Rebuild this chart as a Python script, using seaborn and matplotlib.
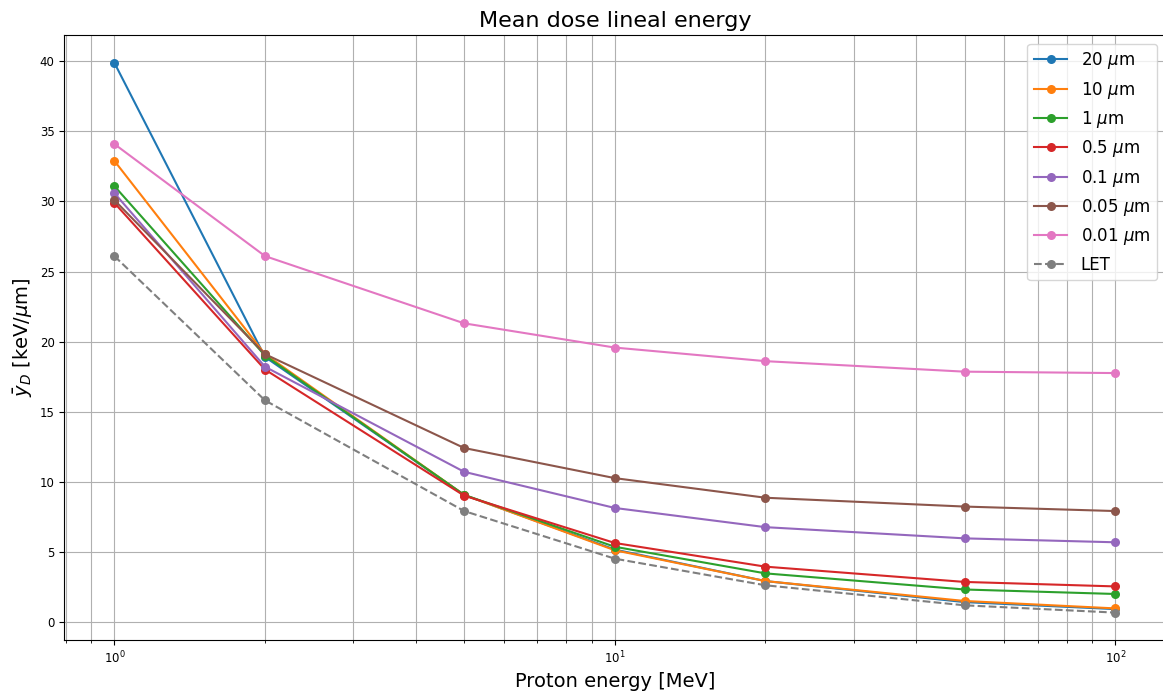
import matplotlib
matplotlib.use("Agg")
import matplotlib.pyplot as plt
import seaborn as sns
import pandas as pd

energies = [1, 2, 5, 10, 20, 50, 100]

y_20um = [39.9, 18.9, 9.05, 5.15, 2.9, 1.4, 0.9]
y_10um = [32.9, 19.1, 9.05, 5.1, 2.9, 1.48, 0.95]
y_1um = [31.1, 19.0, 9.05, 5.35, 3.45, 2.3, 1.98]
y_05um = [29.9, 18.0, 9.0, 5.62, 3.93, 2.84, 2.52]
y_01um = [30.6, 18.2, 10.7, 8.12, 6.75, 5.95, 5.67]
y_005um = [30.1, 19.1, 12.4, 10.25, 8.85, 8.22, 7.9]
y_001um = [34.1, 26.1, 21.3, 19.57, 18.6, 17.85, 17.75]
y_let = [26.1, 15.8, 7.9, 4.5, 2.6, 1.17, 0.65]

labels = [r"20 $\mu$m", r"10 $\mu$m", r"1 $\mu$m", r"0.5 $\mu$m",
          r"0.1 $\mu$m", r"0.05 $\mu$m", r"0.01 $\mu$m", "LET"]
series = [y_20um, y_10um, y_1um, y_05um, y_01um, y_005um, y_001um, y_let]
colors = ["#1f77b4", "#ff7f0e", "#2ca02c", "#d62728",
          "#9467bd", "#8c564b", "#e377c2", "#7f7f7f"]

fig = plt.figure(figsize=(11.63, 6.92), dpi=100)
ax = fig.add_axes([0.0553, 0.075, 0.9467, 0.874])

for lab, vals, col in zip(labels, series, colors):
    df = pd.DataFrame({"E": energies, "y": vals})
    sns.lineplot(data=df, x="E", y="y", ax=ax, color=col, label=lab,
                 marker="o", markersize=6.5, markeredgewidth=0,
                 linestyle="--" if lab == "LET" else "-", linewidth=1.5)

ax.set_xscale("log")
ax.spines["right"].set_visible(False)
ax.grid(True, which="both", axis="x", color="#b0b0b0", linewidth=0.8)
ax.grid(True, which="major", axis="y", color="#b0b0b0", linewidth=0.8)
ax.set_axisbelow(True)
ax.tick_params(labelsize=8.5)
ax.set_title("Mean dose lineal energy", fontsize=16)
ax.set_xlabel("Proton energy [MeV]", fontsize=14)
ax.set_ylabel(r"$\bar{y}_D$ [keV/$\mu$m]", fontsize=14)
ax.legend(loc="upper right", fontsize=12)

fig.savefig("out.png", dpi=100)
